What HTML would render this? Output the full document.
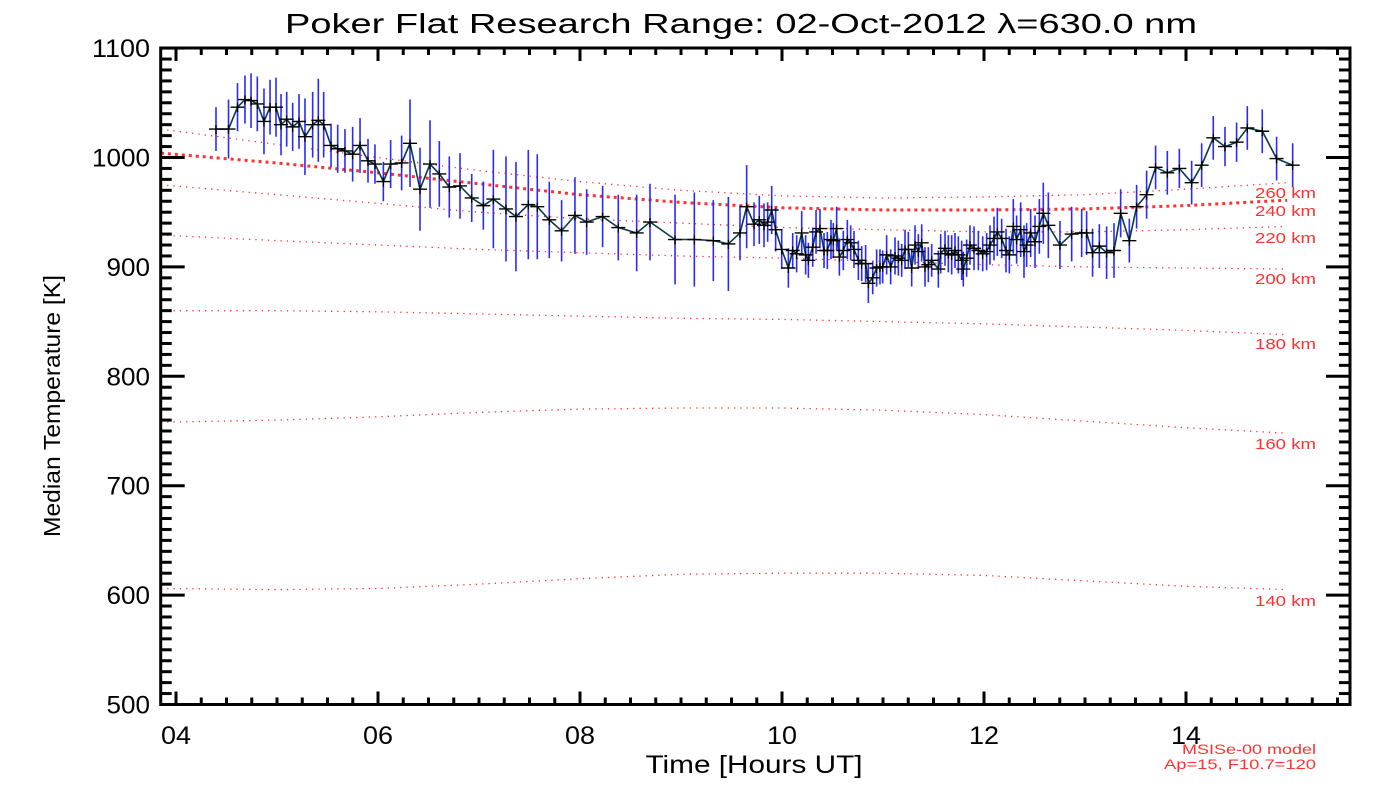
<!DOCTYPE html>
<html><head><meta charset="utf-8"><style>
html,body{margin:0;padding:0;background:#fff;width:1400px;height:800px;overflow:hidden}
svg{display:block;font-family:"Liberation Sans",sans-serif}
</style></head><body>
<svg id="chart" width="1400" height="800" viewBox="0 0 1400 800">
<text x="741" y="33" font-size="28" text-anchor="middle" fill="#000" textLength="912" lengthAdjust="spacingAndGlyphs">Poker Flat Research Range: 02-Oct-2012 λ=630.0 nm</text>
<text transform="translate(60,406) rotate(-90)" font-size="23" text-anchor="middle" fill="#000" textLength="262" lengthAdjust="spacingAndGlyphs">Median Temperature [K]</text>
<text x="754" y="773" font-size="25" text-anchor="middle" fill="#000" textLength="217" lengthAdjust="spacingAndGlyphs">Time [Hours UT]</text>
<text x="1316" y="754" font-size="14" text-anchor="end" fill="#ff3030" textLength="134" lengthAdjust="spacingAndGlyphs">MSISe-00 model</text>
<text x="1316" y="769" font-size="14" text-anchor="end" fill="#ff3030" textLength="152" lengthAdjust="spacingAndGlyphs">Ap=15, F10.7=120</text>
<g id="models"></g>
<g id="bars"></g>
<g id="line"></g>
<g id="marks"></g>
<g id="axes"></g>
</svg>
<script>
const hours = [4.396,4.52,4.609,4.683,4.743,4.805,4.871,4.931,4.990,5.040,5.096,5.155,5.218,5.277,5.353,5.409,5.462,5.535,5.601,5.673,5.749,5.822,5.901,5.970,6.053,6.125,6.234,6.317,6.416,6.515,6.607,6.706,6.812,6.928,7.043,7.142,7.267,7.366,7.488,7.577,7.696,7.818,7.950,8.066,8.224,8.379,8.561,8.693,
8.941,9.132,9.320,9.469,9.584,9.650,9.723,9.775,9.822,9.858,9.898,9.937,9.997,
10.063,10.106,10.145,10.195,10.234,10.261,10.304,10.337,10.376,10.416,10.449,10.485,10.508,10.541,10.568,10.607,10.647,10.680,10.713,10.756,10.789,10.828,10.855,10.898,10.937,10.970,10.997,11.036,11.076,11.119,11.152,11.185,11.218,11.251,11.284,11.317,11.350,11.383,11.416,11.449,11.482,11.548,11.571,11.614,11.647,11.680,11.713,11.746,11.779,11.795,11.828,11.861,11.901,11.944,11.987,12.026,12.059,12.099,12.132,12.175,12.218,12.251,12.290,12.323,12.363,12.396,12.422,12.462,12.505,12.548,12.587,12.637,
12.752,12.868,12.967,13.016,13.075,13.142,13.214,13.287,13.353,13.439,13.511,13.610,13.699,13.815,13.934,14.056,14.155,14.270,14.386,14.501,14.607,14.755,14.897,15.056];
const temps = [1026,1026,1046,1053,1052,1049,1033,1046,1046,1030,1035,1028,1033,1019,1030,1034,1030,1011,1008,1006,1003,1011,997,994,978,994,995,1013,971,994,985,973,974,963,956,962,953,946,957,955,943,933,947,941,946,936,931,941,
925,925,924,921,931,955,939,943,938,941,952,934,916,
899,915,912,931,911,906,918,932,935,915,915,925,924,935,909,915,925,922,916,906,903,903,885,890,899,900,900,911,900,910,908,906,916,916,899,920,914,922,900,902,906,898,912,917,912,911,915,911,906,898,908,920,917,915,912,914,920,926,932,926,915,911,937,925,934,914,920,931,923,937,949,938,
920,930,931,931,913,919,913,915,949,924,955,966,991,986,990,977,993,1018,1010,1014,1027,1024,999,993];
const errs = [20,27,22,22,25,25,30,25,27,28,25,22,25,35,30,38,30,20,22,20,25,25,20,18,18,22,25,40,38,40,30,28,30,22,22,45,48,50,50,48,35,28,35,30,28,30,35,35,
41,43,37,43,25,38,20,22,20,18,22,20,18,
18,16,17,20,18,16,18,20,18,16,17,18,16,20,17,18,18,16,17,18,16,17,18,15,17,16,15,18,16,17,16,15,18,16,17,18,16,17,18,16,15,17,18,16,17,18,16,17,18,16,17,18,20,18,16,17,18,20,22,18,20,17,25,22,25,24,20,22,24,25,28,30,
22,25,22,20,22,20,24,25,22,20,20,22,20,20,18,20,20,20,18,18,20,20,20,20];
const modelTimes = [3.85,5,6,7,8,9,10,11,12,13,14,15];
const m260 = [1026,1012,1000,988,978,970,965,963,964,966,971,977];
const m240 = [1004,995,986,976,966,959,954,952,952,953,956,961];
const m220 = [975,966,958,950,944,940,936,934,932,932,934,937];
const m200 = [929,924,920,916,913,910,908,905,902,900,899,898];
const m180 = [860,860,859,857,855,853,852,850,848,845,842,838];
const m160 = [758,760,763,767,770,771,771,769,765,759,753,748];
const m140 = [606,605,606,610,615,619,620,620,618,613,608,605];
const modelLabels = ["260 km","240 km","220 km","200 km","180 km","160 km","140 km"];
const modelLabelY = [193,211,238,279,344,444,601];
const xTickLabels = ["04","06","08","10","12","14"];
const yTickLabels = ["500","600","700","800","900","1000","1100"];

const NS="http://www.w3.org/2000/svg";
const X0=160.7,X1=1350,Y0=48,Y1=704.5;
function xs(h){return 176+(h-4)*101;}
function ys(t){return 704.5-(t-500)*1.094;}
function mk(tag,attrs,parent){const e=document.createElementNS(NS,tag);for(const k in attrs)e.setAttribute(k,attrs[k]);parent.appendChild(e);return e;}

const models=[m260,m240,m220,m200,m180,m160,m140];
const gm=document.getElementById('models');
models.forEach((arr,i)=>{
  const d=arr.map((v,j)=>(j?'L':'M')+xs(modelTimes[j]).toFixed(1)+','+ys(v).toFixed(1)).join(' ');
  const thick=i===1;
  const p=mk('path',{d:d,fill:'none',stroke:'#ff3030','stroke-width':thick?3:1.3,'stroke-dasharray':thick?'3 4':'1.3 5'},gm);
  
  
  const t=mk('text',{x:1316,y:modelLabelY[i]+5,'font-size':15,'text-anchor':'end',fill:'#ff3030',textLength:61,lengthAdjust:'spacingAndGlyphs'},gm);
  t.textContent=modelLabels[i];
  
  
});

const gb=document.getElementById('bars');
hours.forEach((h,i)=>{
  const l=mk('line',{x1:xs(h),x2:xs(h),y1:ys(temps[i]+errs[i]),y2:ys(temps[i]-errs[i]),stroke:'#2a2aff','stroke-width':1.6},gb);
  
  
});
const gl=document.getElementById('line');
const ld=hours.map((h,i)=>(i?'L':'M')+xs(h).toFixed(1)+','+ys(temps[i]).toFixed(1)).join(' ');
const lp=mk('path',{d:ld,fill:'none',stroke:'#0b3a4a','stroke-width':1.6},gl);


const gk=document.getElementById('marks');
hours.forEach((h,i)=>{
  const x=xs(h),y=ys(temps[i]);
  const p=mk('path',{d:`M${x-7},${y}H${x+7}M${x},${y-4}V${y+5}`,stroke:'#000','stroke-width':1.4,fill:'none'},gk);
  
  
});

const ga=document.getElementById('axes');
const box=mk('rect',{x:X0,y:Y0,width:X1-X0,height:Y1-Y0,fill:'none',stroke:'#000','stroke-width':3},ga);


for(let q=0;q<=46;q++){
  const h=4+q*0.25; const x=xs(h); if(x>X1-2)break;
  const major=q%8===0; const L=major?13:7;
  mk('line',{x1:x,x2:x,y1:Y1,y2:Y1-L,stroke:'#000','stroke-width':3},ga);
  mk('line',{x1:x,x2:x,y1:Y0,y2:Y0+L,stroke:'#000','stroke-width':3},ga);
}
xTickLabels.forEach((s,i)=>{
  const t=mk('text',{x:xs(4+2*i),y:744,'font-size':25,'text-anchor':'middle',fill:'#000',textLength:30,lengthAdjust:'spacingAndGlyphs'},ga);
  t.textContent=s;
  
  
});
for(let v=500;v<=1100;v+=10){
  const y=ys(v); const major=v%100===0; const L=major?24:11;
  mk('line',{x1:X0,x2:X0+L,y1:y,y2:y,stroke:'#000','stroke-width':3},ga);
  mk('line',{x1:X1,x2:X1-L,y1:y,y2:y,stroke:'#000','stroke-width':3},ga);
}
yTickLabels.forEach((s,i)=>{
  const t=mk('text',{x:150,y:ys(500+100*i)+9,'font-size':25,'text-anchor':'end',fill:'#000',textLength:s.length*14.5,lengthAdjust:'spacingAndGlyphs'},ga);
  t.textContent=s;
  
  
});
</script>
</body></html>
